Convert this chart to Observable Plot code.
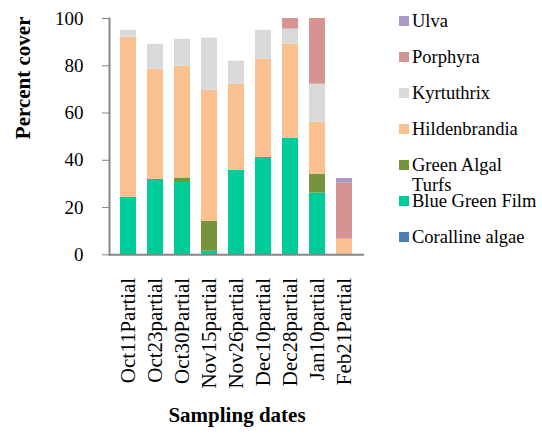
<!DOCTYPE html>
<html>
<head>
<meta charset="utf-8">
<script src="https://cdn.jsdelivr.net/npm/d3@7"></script>
<script src="https://cdn.jsdelivr.net/npm/@observablehq/plot@0.6"></script>
<style>
  html, body { margin: 0; padding: 0; background: #fff; }
  #wrap { position: relative; width: 542px; height: 437px; font-family: "Liberation Serif", "Times New Roman", serif; }
  #wrap svg { font-family: "Liberation Serif", "Times New Roman", serif !important; }
  #legend { position: absolute; left: 0; top: 0; }
  .item { position: absolute; left: 399px; display: flex; align-items: flex-start; font-size: 18.5px; line-height: 20px; color: #000; white-space: pre; }
  .sw { width: 10px; height: 10px; margin-top: 5px; margin-right: 3px; flex: none; }
</style>
</head>
<body>
<div id="wrap"><div id="legend"></div></div>
<script>
// Categories (x axis)
const dates = ["Oct11Partial", "Oct23partial", "Oct30Partial", "Nov15partial", "Nov26partial", "Dec10partial", "Dec28partial", "Jan10partial", "Feb21Partial"];

// Series, bottom to top of each stack
const species = ["Coralline algae", "Blue Green Film", "Green Algal Turfs", "Hildenbrandia", "Kyrtuthrix", "Porphyra", "Ulva"];
const colors  = ["#4a7ebb", "#00cc99", "#77933c", "#fac090", "#d9d9d9", "#d59391", "#a99bc5"];

const corallineAlgae  = [0, 0, 0, 0, 0, 0, 0, 0, 0];
const blueGreenFilm   = [24.3, 31.9, 30.6, 1.5, 35.7, 41.2, 49.3, 26.1, 0];
const greenAlgalTurfs = [0, 0, 1.7, 12.6, 0, 0, 0, 7.9, 0];
const hildenbrandia   = [67.8, 46.6, 47.5, 55.5, 36.5, 41.5, 39.8, 22.1, 6.6];
const kyrtuthrix      = [2.9, 10.6, 11.4, 22.1, 9.7, 12.3, 6.4, 16.1, 0];
const porphyra        = [0, 0, 0, 0, 0, 0, 4.5, 27.8, 23.7];
const ulva            = [0, 0, 0, 0, 0, 0, 0, 0, 2.0];

const yTicks = [0, 20, 40, 60, 80, 100];

const seriesValues = [corallineAlgae, blueGreenFilm, greenAlgalTurfs, hildenbrandia, kyrtuthrix, porphyra, ulva];
const data = [];
species.forEach((s, i) => {
  dates.forEach((d, j) => data.push({date: d, species: s, value: seriesValues[i][j]}));
});

const axisGray = "#868686";
const chart = Plot.plot({
  width: 542,
  height: 437,
  marginLeft: 109,
  marginRight: 178,
  marginTop: 18,
  marginBottom: 182.7,
  style: {fontFamily: "'Liberation Serif', 'Times New Roman', serif", background: "transparent", color: "#000"},
  x: {domain: dates, padding: 0.4, label: null},
  y: {domain: [0, 100], label: null},
  color: {domain: species, range: colors},
  marks: [
    Plot.barY(data, {x: "date", y: "value", fill: "species"}),
    Plot.ruleY([0], {stroke: axisGray, strokeWidth: 2}),
    Plot.frame({anchor: "left", stroke: axisGray, strokeWidth: 2}),
    Plot.axisY({ticks: yTicks, tickSize: 7, tickPadding: 19, fontSize: 19, stroke: axisGray, fill: "#000", label: null}),
    Plot.axisX({tickRotate: -90, tickSize: 0, tickPadding: 23, fontSize: 21, fill: "#000", label: null}),
    Plot.text(["Percent cover"], {text: d => d, frameAnchor: "left", rotate: -90, dx: -86, dy: 2.5, fontSize: 21, fontWeight: "bold", fill: "#000"}),
    Plot.text(["Sampling dates"], {text: d => d, frameAnchor: "bottom", dy: 167.5, fontSize: 21, fontWeight: "bold", fill: "#000"})
  ]
});
const wrap = document.getElementById("wrap");
wrap.insertBefore(chart, wrap.firstChild);

// Legend (top to bottom: reverse of stacking order)
const legend = document.getElementById("legend");
const legendOrder = species.slice().reverse();
legendOrder.forEach((s, i) => {
  const it = document.createElement("div");
  it.className = "item";
  it.style.top = (20.7 + i * 36 - 10) + "px";
  const sw = document.createElement("span");
  sw.className = "sw";
  sw.style.background = colors[species.indexOf(s)];
  const tx = document.createElement("span");
  tx.textContent = s.replace("Algal ", "Algal\n");
  it.appendChild(sw);
  it.appendChild(tx);
  legend.appendChild(it);
});
</script>
</body>
</html>
